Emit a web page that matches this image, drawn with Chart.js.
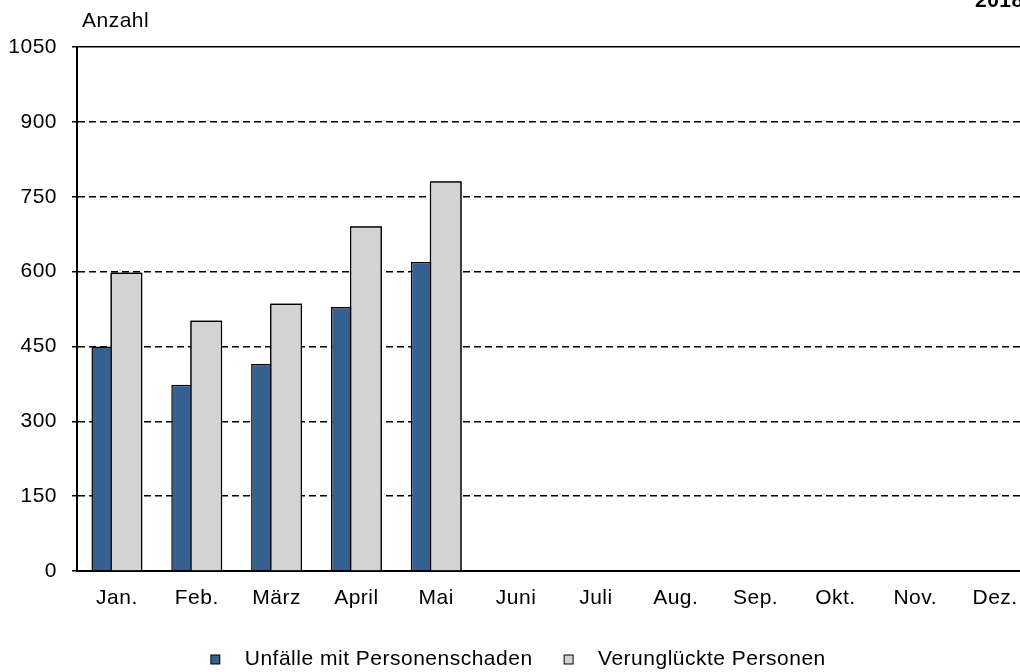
<!DOCTYPE html>
<html>
<head>
<meta charset="utf-8">
<script src="https://cdn.jsdelivr.net/npm/chart.js@4/dist/chart.umd.min.js"></script>
<style>
  html, body { margin: 0; padding: 0; background: #fff; overflow: hidden; }
  #wrap { width: 1020px; height: 672px; overflow: hidden; }
</style>
</head>
<body>
<div id="wrap"><canvas id="unfallChart" width="1049" height="672"></canvas></div>
<script>
const months = ['Jan.', 'Feb.', 'März', 'April', 'Mai', 'Juni', 'Juli', 'Aug.', 'Sep.', 'Okt.', 'Nov.', 'Dez.'];
const unfaelle = [450, 373, 415, 529, 619, null, null, null, null, null, null, null];
const verunglueckte = [598, 502, 536, 691, 781, null, null, null, null, null, null, null];
const yTicks = [0, 150, 300, 450, 600, 750, 900, 1050];
const seriesColors = ['#36608f', '#d3d3d3'];

const FONT = "'Liberation Sans', Arial, sans-serif";
Chart.defaults.font.family = FONT;
Chart.defaults.font.size = 21;
Chart.defaults.color = '#000';

// the original text is a bit wider than plain Arial
const spacingPlugin = {
  id: 'spacing',
  beforeUpdate(chart) { chart.ctx.letterSpacing = '0.5px'; },
  beforeDraw(chart) { chart.ctx.letterSpacing = '0.5px'; },
};

// legend marker: small square, with some empty room before the text
function legendMark(color) {
  const c = document.createElement('canvas');
  c.width = 25;
  c.height = 12;
  const g = c.getContext('2d');
  g.fillStyle = color;
  g.fillRect(1, 1, 10, 10);
  g.strokeStyle = '#000';
  g.lineWidth = 1;
  g.strokeRect(1.5, 1.5, 9, 9);
  return c;
}
const legendMarks = seriesColors.map(legendMark);

// grey bars sit in front of the blue ones
const overlapPlugin = {
  id: 'overlap',
  afterDatasetsDraw(chart) {
    const meta = chart.getDatasetMeta(1);
    chart.ctx.save();
    meta.controller.draw();
    chart.ctx.restore();
  }
};

// extra texts: axis title and year in the corner
const textPlugin = {
  id: 'texts',
  afterDraw(chart) {
    const ctx = chart.ctx;
    ctx.save();
    ctx.fillStyle = '#000';
    ctx.textBaseline = 'alphabetic';
    ctx.font = '21px ' + FONT;
    ctx.fillText('Anzahl', 82, 27);
    ctx.font = 'bold 21px ' + FONT;
    ctx.fillText('2018', 975, 7);
    ctx.restore();
  }
};

new Chart(document.getElementById('unfallChart'), {
  type: 'bar',
  data: {
    labels: months,
    datasets: [{
      label: 'Unfälle mit Personenschaden',
      data: unfaelle,
      backgroundColor: seriesColors[0],
      borderColor: '#000',
      borderWidth: 1.5,
    }, {
      label: 'Verunglückte Personen',
      data: verunglueckte,
      backgroundColor: seriesColors[1],
      borderColor: '#000',
      borderWidth: 1.5,
    }],
  },
  options: {
    responsive: false,
    animation: false,
    categoryPercentage: 0.4755,
    barPercentage: 1.684,
    layout: { padding: { top: 47, right: 14, left: 0, bottom: -8 } },
    scales: {
      x: {
        afterFit(scale) { scale.height = 48; },
        grid: { display: false, drawTicks: false },
        border: { display: true, color: '#000', width: 2 },
        ticks: { padding: 15, color: '#000' },
      },
      y: {
        min: 0,
        max: 1050,
        afterBuildTicks(scale) {
          scale.ticks = yTicks.map(v => ({ value: v }));
        },
        afterFit(scale) { scale.width = 77; },
        grid: {
          color: '#000',
          lineWidth: 1.5,
          drawTicks: true,
          tickLength: 5,
          tickColor: '#000',
        },
        border: {
          display: true,
          color: '#000',
          width: 2,
          dash: ctx => (ctx.tick && ctx.tick.value === 1050) ? [] : [7, 4],
        },
        ticks: {
          padding: 15,
          color: '#000',
          callback: v => String(v),
        },
      },
    },
    plugins: {
      legend: {
        position: 'bottom',
        labels: {
          usePointStyle: true,
          pointStyleWidth: 25,
          boxHeight: 12,
          padding: 30,
          color: '#000',
          generateLabels(chart) {
            const items = Chart.defaults.plugins.legend.labels.generateLabels(chart);
            items.forEach((item, i) => { item.pointStyle = legendMarks[i]; });
            return items;
          },
        },
      },
      tooltip: { enabled: false },
    },
  },
  plugins: [spacingPlugin, overlapPlugin, textPlugin],
});
</script>
</body>
</html>
